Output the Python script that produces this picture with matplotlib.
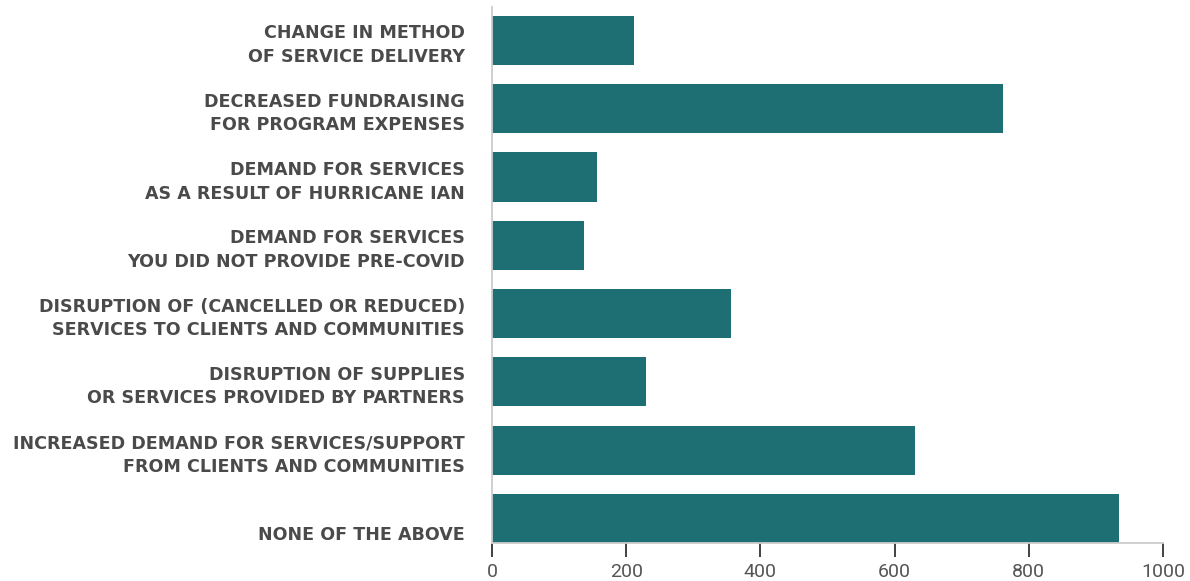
import matplotlib.pyplot as plt
import numpy as np

categories = [
    "CHANGE IN METHOD\nOF SERVICE DELIVERY",
    "DECREASED FUNDRAISING\nFOR PROGRAM EXPENSES",
    "DEMAND FOR SERVICES\nAS A RESULT OF HURRICANE IAN",
    "DEMAND FOR SERVICES\nYOU DID NOT PROVIDE PRE-COVID",
    "DISRUPTION OF (CANCELLED OR REDUCED)\nSERVICES TO CLIENTS AND COMMUNITIES",
    "DISRUPTION OF SUPPLIES\nOR SERVICES PROVIDED BY PARTNERS",
    "INCREASED DEMAND FOR SERVICES/SUPPORT\nFROM CLIENTS AND COMMUNITIES",
    "\nNONE OF THE ABOVE",
]
counts = [211, 762, 156, 137, 356, 229, 630, 934]
x_ticks = [0, 200, 400, 600, 800, 1000]

bar_color = "#1d6f73"
label_color = "#4a4a4a"

plt.rcParams['font.family'] = ['Roboto', 'DejaVu Sans']

fig = plt.figure(figsize=(11.9, 5.81), dpi=100)
ax = fig.add_axes([0.4134, 0.0654, 0.5639, 0.9226])

y = np.arange(len(categories))
ax.barh(y, counts, height=0.72, color=bar_color)

ax.set_xlim(0, 1000)
ax.set_ylim(len(categories) - 1 + 0.36, -0.49)

# category labels, right-aligned against the axis
ax.set_yticks(y)
ax.set_yticklabels(categories, fontsize=12.6, fontweight='bold',
                   family=['DejaVu Sans'],
                   color=label_color, linespacing=1.4)
ax.tick_params(axis='y', length=0, pad=19.5)

ax.set_xticks(x_ticks)
ax.set_xticklabels([str(t) for t in x_ticks], fontsize=14, color="#555555")
ax.tick_params(axis='x', length=10, width=1.3, color="#333333", pad=4.5)

for side in ['top', 'right']:
    ax.spines[side].set_visible(False)
ax.spines['left'].set_color("#cccccc")
ax.spines['left'].set_linewidth(1.3)
ax.spines['bottom'].set_color("#cccccc")
ax.spines['bottom'].set_linewidth(1.3)

fig.savefig("out.png", dpi=100)
